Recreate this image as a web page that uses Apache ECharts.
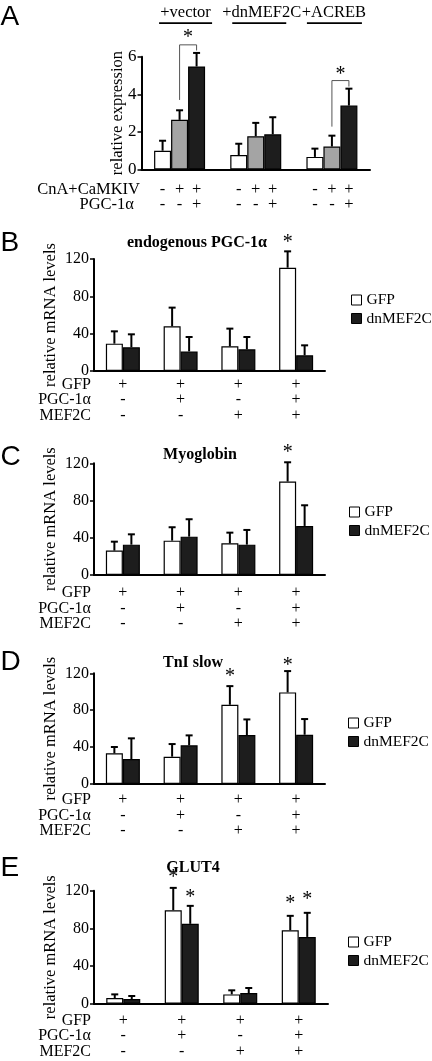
<!DOCTYPE html>
<html><head><meta charset="utf-8">
<script src="https://cdn.jsdelivr.net/npm/echarts@6/dist/echarts.min.js"></script>
<style>html,body{margin:0;padding:0;background:#fff}#c{width:432px;height:1061px}</style>
</head><body><div id="c"></div>
<script>
// ================= DATA =================
// Panel A
const aGroups   = ['+vector', '+dnMEF2C', '+ACREB'];
const aBase     = [1.00, 0.77, 0.67];
const aBaseErr  = [0.53, 0.60, 0.44];
const aCnA      = [2.64, 1.77, 1.22];
const aCnAErr   = [0.51, 0.71, 0.58];
const aCnAPgc   = [5.48, 1.87, 3.40];
const aCnAPgcErr= [0.72, 0.91, 0.90];
const aRowCnA   = ['-','+','+','-','+','+','-','+','+'];
const aRowPgc   = ['-','-','+','-','-','+','-','-','+'];
const aRowNames = ['CnA+CaMKIV', 'PGC-1α'];
const aYMin = 0, aYMax = 6, aYStep = 2;
// brackets: [group, fromBar, toBar, leftFoot, top, rightFoot, starLevel]
const aBrackets = [[0, 1, 2, 3.70, 6.63, 6.33, 6.99], [2, 1, 2, 2.28, 4.73, 4.41, 5.03]];

// Panels B-E
const conditions = ['c1', 'c2', 'c3', 'c4'];
const rowGFP = ['+','+','+','+'];
const rowPGC = ['-','+','-','+'];
const rowMEF = ['-','-','+','+'];
const rowNames = ['GFP', 'PGC-1α', 'MEF2C'];
const seriesNames = ['GFP', 'dnMEF2C'];
const yMin = 0, yMax = 120, yStep = 40;

const bTitle = 'endogenous PGC-1α';
const bGFP = [29.3, 47.9, 26.4, 110.7];
const bGFPErr = [13.2, 20.0, 19.0, 17.5];
const bDn = [25.4, 21.0, 23.2, 16.8];
const bDnErr = [13.9, 15.4, 13.2, 10.7];
const bStars = [[3, 0, 137]];

const cTitle = 'Myoglobin';
const cGFP = [26.2, 36.9, 34.0, 100.4];
const cGFPErr = [9.6, 14.4, 11.5, 20.7];
const cDn = [32.6, 41.2, 32.6, 52.7];
const cDnErr = [11.1, 18.7, 15.8, 22.2];
const cStars = [[3, 0, 131]];

const dTitle = 'TnI slow';
const dGFP = [33.2, 29.6, 85.9, 99.3];
const dGFPErr = [6.9, 13.7, 20.2, 23.1];
const dDn = [27.1, 41.9, 53.1, 53.4];
const dDnErr = [22.4, 10.8, 16.9, 17.0];
const dStars = [[2, 0, 116], [3, 0, 128]];

const eTitle = 'GLUT4';
const eGFP = [6.0, 99.3, 9.9, 78.0];
const eGFPErr = [3.9, 23.7, 4.3, 15.3];
const eDn = [5.0, 84.8, 11.3, 70.9];
const eDnErr = [3.2, 19.1, 5.4, 25.6];
const eStars = [[1, 0, 133.6], [1, 1, 112.3], [3, 0, 106], [3, 1, 110.2]];

// ================= STYLE / LAYOUT =================
const SERIF = "'Liberation Serif', 'Times New Roman', serif";
const SANS = "'Liberation Sans', Arial, sans-serif";
const BAR_W = 17, CAP = 7, ROW_H = 15.5;
const aColors = ['#ffffff', '#a4a4a4', '#1d1d1d'];
const beColors = ['#ffffff', '#1d1d1d'];

const layoutA = {left: 141.5, top: 56.7, width: 228.5, height: 112.8, margin: 13, letterY: 17};
const headerDX = [6, 6, 2], lineDX = [6, 3.5, 2.5], lineHalf = [26.5, 27, 27.5];
const layoutBE = [
  {left: 94, top: 259, width: 231, height: 112, margin: 6, titleX: 197, titleY: 243, letterY: 243, legLeft: 346, legTop: 287},
  {left: 94, top: 463.3, width: 231, height: 111.7, margin: 10.5, titleX: 200, titleY: 455, letterY: 457, legLeft: 344, legTop: 499},
  {left: 94, top: 673.3, width: 231, height: 110.7, margin: 8.5, titleX: 193, titleY: 663, letterY: 662, legLeft: 343, legTop: 710},
  {left: 94, top: 890.7, width: 234, height: 113, margin: 9, titleX: 193, titleY: 868, letterY: 868, legLeft: 343, legTop: 929}
];
const panelsBE = [
  {letter: 'B', title: bTitle, bars: [[bGFP, bGFPErr], [bDn, bDnErr]], stars: bStars},
  {letter: 'C', title: cTitle, bars: [[cGFP, cGFPErr], [cDn, cDnErr]], stars: cStars},
  {letter: 'D', title: dTitle, bars: [[dGFP, dGFPErr], [dDn, dDnErr]], stars: dStars},
  {letter: 'E', title: eTitle, bars: [[eGFP, eGFPErr], [eDn, eDnErr]], stars: eStars}
];

// ================= BUILD =================
const grids = [], xAxes = [], yAxes = [], series = [], legends = [], graphics = [];

function txt(text, x, y, font, align) {
  return {type: 'text', x: x, y: y, silent: true,
    style: {text: text, font: font, fill: '#000', textAlign: align || 'center', align: align || 'center',
            textVerticalAlign: 'middle', verticalAlign: 'middle'}};
}
function valueAxis(idx, min, max, step, name, gap, fs) {
  return {type: 'value', gridIndex: idx, min: min, max: max, interval: step,
    name: name, nameLocation: 'middle', nameGap: gap, nameMoveOverlap: false,
    nameTextStyle: {fontFamily: SERIF, fontSize: 16.5, color: '#000'},
    axisLine: {show: true, lineStyle: {color: '#000', width: 2}},
    axisTick: {show: true, length: 4, lineStyle: {color: '#000', width: 1.5}},
    axisLabel: {margin: 5, fontFamily: SERIF, fontSize: fs, color: '#000'},
    splitLine: {show: false}};
}
function errSeries(idx, nBars, bars) {
  const data = [];
  bars.forEach(function (b, s) { b[0].forEach(function (v, i) { data.push([i, s, v, v + b[1][i]]); }); });
  return {type: 'custom', xAxisIndex: idx, yAxisIndex: idx, data: data, encode: {x: 0, y: 3}, z: 3, silent: true,
    renderItem: function (p, api) {
      const c = api.value(0), s = api.value(1);
      const x = api.coord([c, 0])[0] + (s - (nBars - 1) / 2) * BAR_W;
      const y0 = api.coord([c, api.value(2)])[1];
      const y1 = api.coord([c, api.value(3)])[1];
      return {type: 'group', children: [
        {type: 'line', shape: {x1: x, y1: y0, x2: x, y2: y1}, style: {stroke: '#000', lineWidth: 2}},
        {type: 'line', shape: {x1: x - CAP / 2, y1: y1, x2: x + CAP / 2, y2: y1}, style: {stroke: '#000', lineWidth: 2}}
      ]};
    }};
}
function starSeries(idx, nBars, stars) {
  return {type: 'custom', xAxisIndex: idx, yAxisIndex: idx, data: stars, encode: {x: 0, y: 2}, z: 4, silent: true,
    renderItem: function (p, api) {
      const c = api.value(0), s = api.value(1);
      const x = api.coord([c, 0])[0] + (s - (nBars - 1) / 2) * BAR_W;
      const y = api.coord([c, api.value(2)])[1];
      return txt('*', x, y, '20px ' + SERIF);
    }};
}

// ---- Panel A ----
grids.push({left: layoutA.left, top: layoutA.top, width: layoutA.width, height: layoutA.height});
xAxes.push({type: 'category', gridIndex: 0, data: aGroups,
  axisLine: {lineStyle: {color: '#000', width: 2}},
  axisTick: {length: 4, lineStyle: {color: '#000', width: 1.5}},
  axisLabel: {interval: 0, margin: layoutA.margin, color: '#000',
    formatter: function (v, i) {
      const r1 = [0, 1, 2].map(function (k) { return '{m|' + aRowCnA[i * 3 + k] + '}'; }).join('');
      const r2 = [0, 1, 2].map(function (k) { return '{m|' + aRowPgc[i * 3 + k] + '}'; }).join('');
      return r1 + '\n' + r2;
    },
    rich: {m: {width: BAR_W, align: 'center', lineHeight: 15, fontSize: 16.5, fontFamily: SERIF, color: '#000'}}}});
yAxes.push(valueAxis(0, aYMin, aYMax, aYStep, 'relative expression', 15, 17));
[[aBase, aBaseErr], [aCnA, aCnAErr], [aCnAPgc, aCnAPgcErr]].forEach(function (b, k) {
  series.push({type: 'bar', name: 'A' + k, xAxisIndex: 0, yAxisIndex: 0, data: b[0], barWidth: BAR_W, barGap: '0%',
    itemStyle: {color: aColors[k], borderColor: '#000', borderWidth: 1.2}, z: 2, silent: true});
});
series.push(errSeries(0, 3, [[aBase, aBaseErr], [aCnA, aCnAErr], [aCnAPgc, aCnAPgcErr]]));
series.push({type: 'custom', xAxisIndex: 0, yAxisIndex: 0, data: aBrackets, encode: {x: 0, y: 4}, z: 4, silent: true,
  renderItem: function (p, api) {
    const c = api.value(0), cx = api.coord([c, 0])[0];
    const x1 = cx + (api.value(1) - 1) * BAR_W, x2 = cx + (api.value(2) - 1) * BAR_W;
    const yl = api.coord([c, api.value(3)])[1], yt = api.coord([c, api.value(4)])[1], yr = api.coord([c, api.value(5)])[1];
    const ys = api.coord([c, api.value(6)])[1];
    return {type: 'group', children: [
      {type: 'polyline', shape: {points: [[x1, yl], [x1, yt], [x2, yt], [x2, yr]]}, style: {stroke: '#555', lineWidth: 1, fill: null}},
      txt('*', (x1 + x2) / 2, ys, '20px ' + SERIF)
    ]};
  }});
// group headers with lines over each group
series.push({type: 'custom', xAxisIndex: 0, yAxisIndex: 0, data: aGroups.map(function (g, i) { return [i, 0]; }),
  encode: {x: 0, y: 1}, z: 4, silent: true,
  renderItem: function (p, api) {
    const i = api.value(0), cx = api.coord([i, 0])[0], top = p.coordSys.y;
    return {type: 'group', children: [
      txt(aGroups[i], cx + headerDX[i], top - 44.5, '16.5px ' + SERIF),
      {type: 'line', shape: {x1: cx + lineDX[i] - lineHalf[i], y1: top - 33.5, x2: cx + lineDX[i] + lineHalf[i], y2: top - 33.5},
       style: {stroke: '#000', lineWidth: 1.8}}
    ]};
  }});
graphics.push(txt('A', 0.5, layoutA.letterY, '28px ' + SANS, 'left'));
const aZero = layoutA.top + layoutA.height;
graphics.push(txt(aRowNames[0], 140, aZero + layoutA.margin + 7.5, '16.5px ' + SERIF, 'right'));
graphics.push(txt(aRowNames[1], 134, aZero + layoutA.margin + 22.5, '16.5px ' + SERIF, 'right'));

// ---- Panels B-E ----
panelsBE.forEach(function (pan, j) {
  const idx = j + 1, L = layoutBE[j];
  grids.push({left: L.left, top: L.top, width: L.width, height: L.height});
  xAxes.push({type: 'category', gridIndex: idx, data: conditions,
    axisLine: {lineStyle: {color: '#000', width: 2}},
    axisTick: {length: 4, lineStyle: {color: '#000', width: 1.5}},
    axisLabel: {interval: 0, margin: L.margin, lineHeight: ROW_H, fontFamily: SERIF, fontSize: 16, color: '#000',
      formatter: function (v, i) { return rowGFP[i] + '\n' + rowPGC[i] + '\n' + rowMEF[i]; }}});
  yAxes.push(valueAxis(idx, yMin, yMax, yStep, 'relative mRNA levels', 35, 16));
  pan.bars.forEach(function (b, k) {
    series.push({type: 'bar', name: seriesNames[k], xAxisIndex: idx, yAxisIndex: idx, data: b[0], barWidth: BAR_W, barGap: '0%',
      itemStyle: {color: beColors[k], borderColor: '#000', borderWidth: 1.2}, z: 2, silent: true});
  });
  series.push(errSeries(idx, 2, pan.bars));
  series.push(starSeries(idx, 2, pan.stars));
  legends.push({data: seriesNames, orient: 'vertical', left: L.legLeft, top: L.legTop, itemWidth: 10, itemHeight: 10,
    itemGap: 2.5, icon: 'rect', selectedMode: false,
    itemStyle: {borderColor: '#000', borderWidth: 1},
    textStyle: {fontFamily: SERIF, fontSize: 15.5, color: '#000'}});
  graphics.push(txt(pan.letter, 0.5, L.letterY, '28px ' + SANS, 'left'));
  graphics.push(txt(pan.title, L.titleX, L.titleY, 'bold 16px ' + SERIF));
  const zero = L.top + L.height;
  rowNames.forEach(function (r, k) {
    graphics.push(txt(r, 91, zero + L.margin + ROW_H / 2 + k * ROW_H, '16px ' + SERIF, 'right'));
  });
});

const chart = echarts.init(document.getElementById('c'), null, {renderer: 'canvas', width: 432, height: 1061});
chart.setOption({
  animation: false, backgroundColor: '#fff',
  textStyle: {fontFamily: SERIF},
  grid: grids, xAxis: xAxes, yAxis: yAxes, series: series, legend: legends, graphic: graphics
});
</script></body></html>
